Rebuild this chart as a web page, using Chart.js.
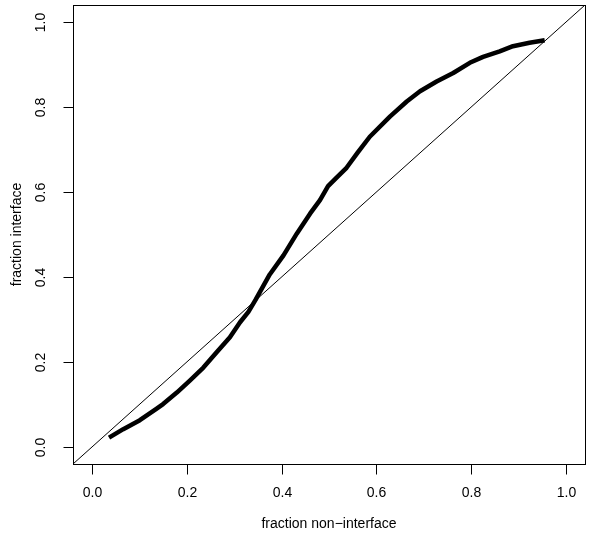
<!DOCTYPE html>
<html>
<head>
<meta charset="utf-8">
<script src="https://cdn.jsdelivr.net/npm/chart.js@4/dist/chart.umd.min.js"></script>
<style>
html,body{margin:0;padding:0;background:#fff;}
#wrap{width:600px;height:544px;}
</style>
</head>
<body>
<div id="wrap"><canvas id="c" width="600" height="544"></canvas></div>
<script>
// fraction non-interface (x) vs fraction interface (y)
const fracNonInterface = [0.036,0.066,0.101,0.135,0.150,0.179,0.207,0.235,0.263,0.291,0.312,0.330,0.345,0.375,0.404,0.432,0.460,0.481,0.498,0.516,0.537,0.560,0.586,0.629,0.664,0.692,0.727,0.762,0.797,0.825,0.860,0.888,0.923,0.955];
const fracInterface    = [0.022,0.042,0.063,0.089,0.101,0.128,0.157,0.187,0.223,0.258,0.293,0.318,0.346,0.406,0.451,0.502,0.549,0.581,0.614,0.634,0.657,0.692,0.730,0.778,0.813,0.837,0.860,0.880,0.904,0.918,0.931,0.943,0.951,0.957];
const diagonalX = [-0.04, 1.04];
const diagonalY = [-0.04, 1.04];
const tickValues = [0, 0.2, 0.4, 0.6, 0.8, 1.0];
const tickLabels = ["0.0", "0.2", "0.4", "0.6", "0.8", "1.0"];
const xTitle = "fraction non\u2212interface";
const yTitle = "fraction interface";

const FONT = '14px "Liberation Sans", Arial, Helvetica, sans-serif';

const curve = fracNonInterface.map((x, i) => ({x: x, y: fracInterface[i]}));
const diag = diagonalX.map((x, i) => ({x: x, y: diagonalY[i]}));

const rAxes = {
  id: 'rAxes',
  afterDraw(chart) {
    const ctx = chart.ctx;
    const a = chart.chartArea;
    const xs = chart.scales.x, ys = chart.scales.y;
    ctx.save();
    ctx.strokeStyle = '#000';
    ctx.lineWidth = 1;
    ctx.strokeRect(Math.round(a.left) + 0.5, Math.round(a.top) + 0.5,
                   Math.round(a.right - a.left), Math.round(a.bottom - a.top));
    ctx.fillStyle = '#000';
    ctx.font = FONT;
    ctx.textAlign = 'center';
    ctx.textBaseline = 'middle';
    tickValues.forEach((v, i) => {
      const px = Math.round(xs.getPixelForValue(v)) + 0.5;
      ctx.beginPath();
      ctx.moveTo(px, Math.round(a.bottom) + 0.5);
      ctx.lineTo(px, Math.round(a.bottom) + 10.5);
      ctx.stroke();
      ctx.fillText(tickLabels[i], px, a.bottom + 29);
    });
    tickValues.forEach((v, i) => {
      const py = Math.round(ys.getPixelForValue(v)) + 0.5;
      ctx.beginPath();
      ctx.moveTo(Math.round(a.left) + 0.5, py);
      ctx.lineTo(Math.round(a.left) - 9.5, py);
      ctx.stroke();
      ctx.save();
      ctx.translate(a.left - 32, py);
      ctx.rotate(-Math.PI / 2);
      ctx.fillText(tickLabels[i], 0, 0);
      ctx.restore();
    });
    ctx.fillText(xTitle, (a.left + a.right) / 2, a.bottom + 60);
    ctx.save();
    ctx.translate(a.left - 56, (a.top + a.bottom) / 2);
    ctx.rotate(-Math.PI / 2);
    ctx.fillText(yTitle, 0, 0);
    ctx.restore();
    ctx.restore();
  }
};

new Chart(document.getElementById('c'), {
  type: 'scatter',
  data: {
    datasets: [
      {data: diag, showLine: true, borderColor: '#000', borderWidth: 1, pointRadius: 0, tension: 0, clip: true},
      {data: curve, showLine: true, borderColor: '#000', borderWidth: 4.5, pointRadius: 0, tension: 0, borderCapStyle: 'butt', borderJoinStyle: 'round'}
    ]
  },
  options: {
    responsive: false,
    animation: false,
    events: [],
    layout: {padding: {left: 73, top: 5, right: 15, bottom: 80}},
    plugins: {legend: {display: false}, tooltip: {enabled: false}},
    scales: {
      x: {type: 'linear', min: -0.04, max: 1.04, display: false},
      y: {type: 'linear', min: -0.04, max: 1.04, display: false}
    }
  },
  plugins: [rAxes]
});
</script>
</body>
</html>
